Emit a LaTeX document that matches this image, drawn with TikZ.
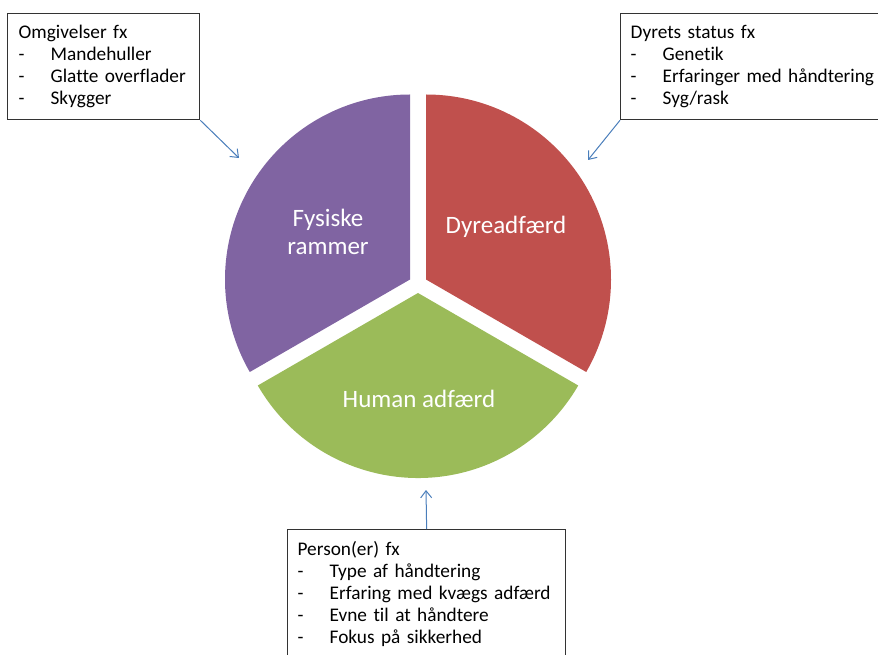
\documentclass[tikz,border=0pt]{standalone}
\usepackage{fontspec}
\setmainfont{Carlito}[Ligatures=NoCommon]
\usepackage{tikz}
\usetikzlibrary{
	positioning,
	arrows.meta
}
\definecolor{lilla}{HTML}{8064A2}
\definecolor{roed}{HTML}{C0504D}
\definecolor{groen}{HTML}{9BBB59}
\definecolor{pilblaa}{HTML}{4A7EBB}
\newcommand{\punkt}[1]{\makebox[32pt][l]{-}#1}

\begin{document}
\begin{tikzpicture}[
		x=1pt, y=1pt,
		boks/.style={draw=black!80, line width=1.3pt, fill=white, anchor=north west,
			align=left, inner ysep=0pt, font=\fontsize{19.3}{22}\selectfont},
		etiket/.style={text=white, align=center, font=\fontsize{25}{28}\selectfont},
		pil/.style={draw=pilblaa, line width=1pt, -{Straight Barb[length=7pt,width=11pt]}}
	]
		\useasboundingbox (0,0) rectangle (878,654);
		\clip (0,0) rectangle (878,654);

		\fill[lilla] (410,374.5) -- ++(90:185) arc[start angle=90, end angle=210, radius=185] -- cycle;
		\fill[roed]  (426,374.5) -- ++(90:185) arc[start angle=90, end angle=-30, radius=185] -- cycle;
		\fill[groen] (418,361)   -- ++(210:185) arc[start angle=210, end angle=330, radius=185] -- cycle;

		\draw
			node[etiket] (fys)    at (328,422) {Fysiske\\rammer}
			node[etiket] (dyradf) at (506,427) {Dyreadfærd}
			node[etiket] (human)  at (419,255) {Human adfærd}

			node[boks, text width=170pt, inner xsep=11pt, minimum height=106pt] (omg) at (7,641)
				{Omgivelser fx\\\punkt{Mandehuller}\\\punkt{Glatte overflader}\\\punkt{Skygger}}
			node[boks, text width=250pt, inner xsep=10pt, minimum height=106pt] (dyr) at (620,641)
				{Dyrets status fx\\\punkt{Genetik}\\\punkt{Erfaringer med håndtering}\\\punkt{Syg/rask}}
			node[boks, text width=258pt, inner xsep=10pt, minimum height=128pt] (pers) at (287,125)
				{Person(er) fx\\\punkt{Type af håndtering}\\\punkt{Erfaring med kvægs adfærd}\\\punkt{Evne til at håndtere}\\\punkt{Fokus på sikkerhed}}
		;

		\coordinate (omgpil)  at (239,496);
		\coordinate (dyrpil)  at (588,494);
		\coordinate (perspil) at (426,164);

		\draw[pil] (omg.south east)  -- (omgpil);
		\draw[pil] (dyr.south west)  -- (dyrpil);
		\draw[pil] (pers.north)      -- (perspil);
	\end{tikzpicture}
\end{document}
